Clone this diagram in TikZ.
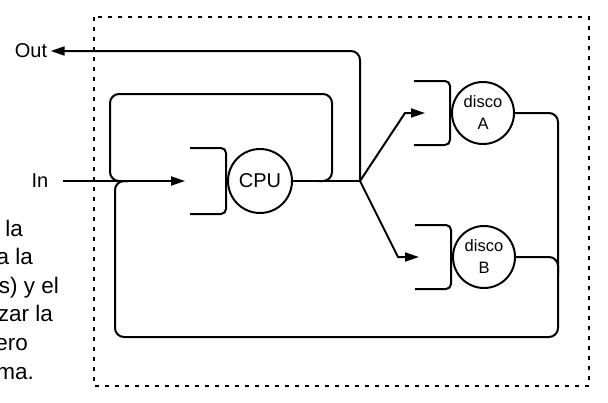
\documentclass[tikz,border=0pt]{standalone}
\usepackage{fontspec}
\setmainfont{Liberation Sans}
\usetikzlibrary{arrows.meta}
\def\drawflow{\draw[flow, rounded corners=9pt]}
\def\drawqueue{\draw[flow, rounded corners=5pt]}
\def\servernode{\node[circle,draw,line width=2pt,minimum size=64pt,inner sep=0pt,align=center]}
\def\textnode{\node[anchor=base east,inner sep=0pt,font=\fontsize{22.5}{26}\selectfont]}

\begin{document}
\begin{tikzpicture}[x=1pt,y=-1pt,
  flow/.style={line width=2pt},
  tip/.style={-{Triangle[length=14pt,width=9pt]}}]
\useasboundingbox (0,0) rectangle (608,402);
% system boundary
\draw[line width=2.2pt, dash pattern=on 4pt off 6pt] (94,17) rectangle (589,386);
% servers
\servernode[font=\fontsize{20}{24}\selectfont] (cpu) at (260,181) {CPU};
\servernode[minimum size=62pt,font=\fontsize{16.5}{22}\selectfont] (diskA) at (483,113) {disco\\A};
\servernode[minimum size=62pt,font=\fontsize{16.5}{22}\selectfont] (diskB) at (484,257) {disco\\B};
% queues
\drawqueue (cpu.north -| cpu.west) ++(-37,0) -- ([xshift=-1pt]cpu.north -| cpu.west) -- ([xshift=-1pt]cpu.south -| cpu.west) -- ++(-36,0);
\drawqueue (diskA.north -| diskA.west) ++(-37,0) -- ([xshift=-1pt]diskA.north -| diskA.west) -- ([xshift=-1pt]diskA.south -| diskA.west) -- ++(-36,0);
\drawqueue (diskB.north -| diskB.west) ++(-37,0) -- ([xshift=-1pt]diskB.north -| diskB.west) -- ([xshift=-1pt]diskB.south -| diskB.west) -- ++(-36,0);
% in / out
\node[font=\fontsize{20}{24}\selectfont] (in) at (40,181) {In};
\node[font=\fontsize{20}{24}\selectfont] (out) at (31,51) {Out};
\coordinate (junc) at (360,181);
\coordinate (cpuin) at (185,181);
\coordinate (inA) at (425,113);
\coordinate (inB) at (419,257);
\coordinate (loopout) at (318,181);
\coordinate (loopin) at (128,181);
\coordinate (diskBjoin) at (558,274);
\drawflow[tip, shorten <=11pt] (in) -- (cpuin);
\drawflow[tip] (junc) |- (out);
\drawflow (cpu) -- (junc);
\draw[flow, tip] (junc) -- (405,113) -- (inA);
\draw[flow, tip] (junc) -- (398,257) -- (inB);
% feedback loops
\drawflow (loopout) -| (332,94) -| (110,181) -- (loopin);
\drawflow (diskA) -| (558,337) -| (115,181) -- (loopin);
\drawflow (diskB) -| (diskBjoin);
% clipped paragraph
\textnode (t1) at (23,236) {la};
\textnode (t2) at (33,264) {a la};
\textnode (t3) at (59,293) {s) y el};
\textnode (t4) at (53,321) {zar la};
\textnode (t5) at (28,350) {ero};
\textnode (t6) at (34,379) {ma.};
\end{tikzpicture}
\end{document}
